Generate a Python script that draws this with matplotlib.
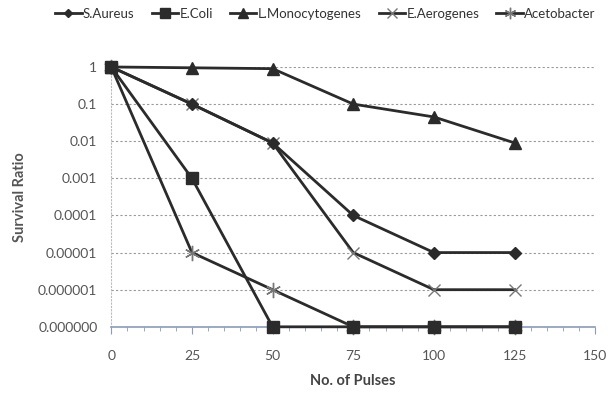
import numpy as np
import matplotlib.pyplot as plt
from matplotlib.ticker import FixedLocator, FixedFormatter, MultipleLocator

plt.rcParams['font.family'] = ['Lato', 'DejaVu Sans']

pulses = [0, 25, 50, 75, 100, 125]
s_aureus = [1, 0.1, 0.009, 0.0001, 0.00001, 0.00001]
e_coli = [1, 0.001, 1e-7, 1e-7, 1e-7, 1e-7]
l_mono = [1, 0.95, 0.9, 0.1, 0.045, 0.009]
e_aero = [1, 0.1, 0.009, 0.00001, 0.000001, 0.000001]
aceto = [1, 0.00001, 0.000001, 1e-7, 1e-7, 1e-7]

yticks = [1, 0.1, 0.01, 0.001, 0.0001, 0.00001, 0.000001, 1e-7]
ylabels = ['1', '0.1', '0.01', '0.001', '0.0001', '0.00001', '0.000001', '0.000000']

fig = plt.figure(figsize=(6.08, 4.01), dpi=100)
ax = fig.add_axes([0.183, 0.185, 0.796, 0.648])

lc = '#2b2b2b'
ax.plot(pulses, s_aureus, color=lc, lw=2, marker='D', ms=6, label='S.Aureus', clip_on=False, zorder=5)
ax.plot(pulses, e_coli, color=lc, lw=2, marker='s', ms=9, label='E.Coli', clip_on=False, zorder=5)
ax.plot(pulses, l_mono, color=lc, lw=2, marker='^', ms=9, label='L.Monocytogenes', clip_on=False, zorder=5)
ax.plot(pulses, e_aero, color=lc, lw=2, marker='x', ms=9, mew=1, mec='#777777',
        label='E.Aerogenes', clip_on=False, zorder=4)
ax.plot(pulses, aceto, color=lc, lw=2, marker=(6, 2, 0), ms=11, mew=1, mec='#777777',
        label='Acetobacter', clip_on=False, zorder=4)

ax.set_yscale('log')
ax.set_ylim(1e-7, 1)
ax.set_xlim(0, 150)
ax.yaxis.set_major_locator(FixedLocator(yticks))
ax.yaxis.set_major_formatter(FixedFormatter(ylabels))
ax.yaxis.set_minor_locator(FixedLocator([]))
ax.xaxis.set_major_locator(MultipleLocator(25))
ax.xaxis.set_minor_locator(MultipleLocator(5))

ax.grid(axis='y', color='#999999', ls=(0, (2, 2)), lw=0.8)
for s in ['top', 'right']:
    ax.spines[s].set_visible(False)
ax.spines['left'].set_color('#bbbbbb')
ax.spines['left'].set_linestyle((0, (1, 2)))
ax.spines['bottom'].set_color('#8a9ac0')
ax.spines['bottom'].set_linewidth(1.2)

ax.tick_params(axis='y', length=0, labelsize=10, labelcolor='#555555', pad=10)
ax.tick_params(axis='x', which='major', length=5, color='#8a9ac0', labelsize=10,
               labelcolor='#555555', pad=12)
ax.tick_params(axis='x', which='minor', length=3, color='#8a9ac0')

ax.set_ylabel('Survival Ratio', fontsize=10.5, fontweight='bold', color='#555555', labelpad=8)
ax.set_xlabel('No. of Pulses', fontsize=10.5, fontweight='bold', color='#444444', labelpad=8)

fig.legend(loc='upper center', bbox_to_anchor=(0.535, 1.01), ncol=5, frameon=False,
           fontsize=9.5, handlelength=2.0, handletextpad=0.1, columnspacing=1.3,
           markerscale=0.75, labelcolor='#333333')

fig.savefig('out.png', dpi=100)
